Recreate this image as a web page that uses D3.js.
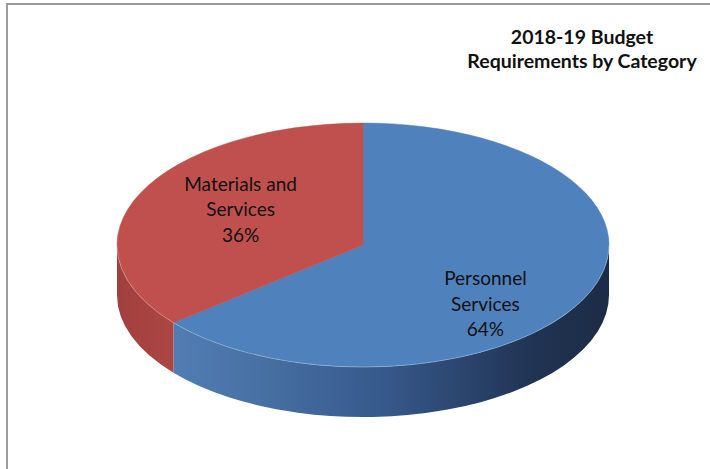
<!DOCTYPE html>
<html>
<head>
<meta charset="utf-8">
<script src="https://cdn.jsdelivr.net/npm/d3@7/dist/d3.min.js"></script>
<style>
  body { margin: 0; background: #fff; }
  svg { display: block; font-family: Lato, "Open Sans", sans-serif; }
</style>
</head>
<body>
<svg id="chart" width="710" height="469"></svg>
<script>
// data
var categories = ["Personnel Services", "Materials and Services"]
var shares = [64, 36]
var labelLines = [["Personnel", "Services", "64%"], ["Materials and", "Services", "36%"]]
var titleLines = ["2018-19 Budget", "Requirements by Category"]

var topColors = ["#4f81bd", "#c0504d"]

var svg = d3.select("#chart")

// frame (only left + top edge show in the crop)
svg.append("path")
    .attr("d", "M7,469 V4 H710")
    .attr("fill", "none")
    .attr("stroke", "#9a9a9a")
    .attr("stroke-width", 2)

// ellipse geometry
var cx = 363, cy = 245, rx = 246, ry = 122, depth = 50

function pt(a, dy) {
    return [cx + rx * Math.sin(a), cy - ry * Math.cos(a) + (dy || 0)]
}

var pie = d3.pie().sort(null).value(function(d) { return d })
var arcs = pie(shares)

var defs = svg.append("defs")
var gBlue = defs.append("linearGradient").attr("id", "sideBlue")
    .attr("gradientUnits", "userSpaceOnUse")
    .attr("x1", cx - rx).attr("x2", cx + rx).attr("y1", 0).attr("y2", 0)
gBlue.append("stop").attr("offset", "0%").attr("stop-color", "#5785bd")
gBlue.append("stop").attr("offset", "25%").attr("stop-color", "#4a74a8")
gBlue.append("stop").attr("offset", "55%").attr("stop-color", "#36588a")
gBlue.append("stop").attr("offset", "85%").attr("stop-color", "#203352")
gBlue.append("stop").attr("offset", "100%").attr("stop-color", "#1c2c45")

var gRed = defs.append("linearGradient").attr("id", "sideRed")
    .attr("gradientUnits", "userSpaceOnUse")
    .attr("x1", cx - rx).attr("x2", cx - rx + 60).attr("y1", 0).attr("y2", 0)
gRed.append("stop").attr("offset", "0%").attr("stop-color", "#a0403e")
gRed.append("stop").attr("offset", "100%").attr("stop-color", "#ad4744")

var sideFills = ["url(#sideBlue)", "url(#sideRed)"]

// side walls: only the front half (angles PI/2 .. 3PI/2) is visible
function sidePath(d) {
    var s = Math.max(d.startAngle, Math.PI / 2)
    var e = Math.min(d.endAngle, 3 * Math.PI / 2)
    if (e <= s) return null
    var p0 = pt(s), p1 = pt(e), p2 = pt(e, depth), p3 = pt(s, depth)
    return "M" + p0 + " A" + rx + "," + ry + " 0 0 1 " + p1 +
        " L" + p2 + " A" + rx + "," + ry + " 0 0 0 " + p3 + " Z"
}

svg.append("g").selectAll("path")
    .data(arcs)
    .enter()
    .append("path")
    .attr("d", sidePath)
    .attr("fill", function(d, i) { return sideFills[i] })

// top face
function topPath(d) {
    var p0 = pt(d.startAngle), p1 = pt(d.endAngle)
    var large = d.endAngle - d.startAngle > Math.PI ? 1 : 0
    return "M" + cx + "," + cy + " L" + p0 + " A" + rx + "," + ry + " 0 " + large + " 1 " + p1 + " Z"
}

svg.append("g").selectAll("path")
    .data(arcs)
    .enter()
    .append("path")
    .attr("d", topPath)
    .attr("fill", function(d, i) { return topColors[i] })
    .attr("stroke", function(d, i) { return topColors[i] })
    .attr("stroke-width", 0.5)

// light rim where top meets the wall
svg.append("path")
    .attr("d", "M" + pt(Math.PI / 2) + " A" + rx + "," + ry + " 0 0 1 " + pt(3 * Math.PI / 2))
    .attr("fill", "none")
    .attr("stroke", "rgba(255,255,255,0.25)")
    .attr("stroke-width", 1)

// labels
var lh = 25.5
svg.append("g").selectAll("text")
    .data(arcs)
    .enter()
    .append("text")
    .attr("text-anchor", "middle")
    .attr("font-size", 19)
    .attr("fill", "#111")
    .each(function(d, i) {
        var a = (d.startAngle + d.endAngle) / 2
        var x = cx + rx * 0.55 * Math.sin(a)
        var y = cy + 12 - ry * 0.91 * Math.cos(a)
        var lines = labelLines[i]
        d3.select(this).selectAll("tspan")
            .data(lines)
            .enter()
            .append("tspan")
            .attr("x", x)
            .attr("y", function(t, j) { return y + 6.5 + (j - (lines.length - 1) / 2) * lh })
            .text(function(t) { return t })
    })

// title
svg.append("g").selectAll("text")
    .data(titleLines)
    .enter()
    .append("text")
    .attr("x", 582)
    .attr("y", function(d, i) { return 43.5 + i * 24.5 })
    .attr("text-anchor", "middle")
    .attr("font-weight", "bold")
    .attr("font-size", 19.5)
    .attr("fill", "#111")
    .text(function(d) { return d })
</script>
</body>
</html>
